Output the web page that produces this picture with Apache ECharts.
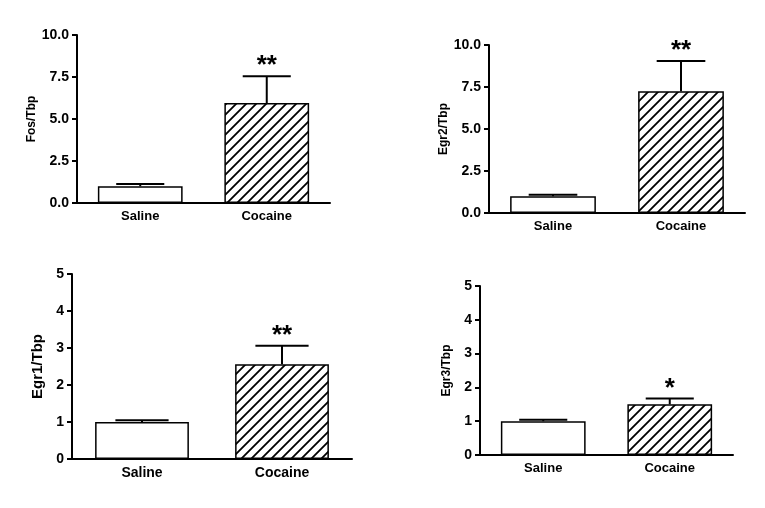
<!DOCTYPE html>
<html>
<head>
<meta charset="utf-8">
<script src="https://cdn.jsdelivr.net/npm/echarts@6/dist/echarts.min.js"></script>
<style>
  html, body { margin: 0; padding: 0; background: #fff; }
  #chart { width: 765px; height: 508px; }
</style>
</head>
<body>
<div id="chart"></div>
<script>
// data
var categories = ['Saline', 'Cocaine'];
var fosMean = [1.0, 5.95];
var fosSem = [0.13, 1.6];
var egr2Mean = [1.0, 7.25];
var egr2Sem = [0.09, 1.8];
var egr1Mean = [1.0, 2.56];
var egr1Sem = [0.05, 0.5];
var egr3Mean = [1.0, 1.5];
var egr3Sem = [0.04, 0.17];
var stars1 = ['', '**'];
var stars2 = ['', '**'];
var stars3 = ['', '**'];
var stars4 = ['', '*'];

var FONT = '"Liberation Sans", Arial, sans-serif';

// hatch tile "/" for the cocaine bars
function makeHatch() {
  var c = document.createElement('canvas');
  c.width = 10; c.height = 10;
  var ctx = c.getContext('2d');
  ctx.fillStyle = '#fff';
  ctx.fillRect(0, 0, 10, 10);
  ctx.strokeStyle = '#000';
  ctx.lineWidth = 1.8;
  ctx.beginPath();
  ctx.moveTo(-1, 11); ctx.lineTo(11, -1);
  ctx.moveTo(-6, 6); ctx.lineTo(6, -6);
  ctx.moveTo(4, 16); ctx.lineTo(16, 4);
  ctx.stroke();
  return c;
}
var hatch = { image: makeHatch(), repeat: 'repeat' };

var panels = [
  { grid: { left: 77, top: 35, width: 253, height: 168 }, name: 'Fos/Tbp', nameSize: 12, nameGap: 35, max: 10, step: 2.5, dec: 1, mean: fosMean, sem: fosSem, stars: stars1, catSize: 13 },
  { grid: { left: 489, top: 45, width: 256, height: 168 }, name: 'Egr2/Tbp', nameSize: 12, nameGap: 36, max: 10, step: 2.5, dec: 1, mean: egr2Mean, sem: egr2Sem, stars: stars2, catSize: 13 },
  { grid: { left: 72, top: 274, width: 280, height: 185 }, name: 'Egr1/Tbp', nameSize: 15, nameGap: 27, max: 5, step: 1, dec: 0, mean: egr1Mean, sem: egr1Sem, stars: stars3, catSize: 14 },
  { grid: { left: 480, top: 286, width: 253, height: 169 }, name: 'Egr3/Tbp', nameSize: 12, nameGap: 27, max: 5, step: 1, dec: 0, mean: egr3Mean, sem: egr3Sem, stars: stars4, catSize: 13 }
];

var grids = [], xAxes = [], yAxes = [], series = [];

panels.forEach(function (p, i) {
  grids.push(p.grid);
  xAxes.push({
    type: 'category', gridIndex: i, data: categories,
    axisLine: { lineStyle: { color: '#000', width: 2 } },
    axisTick: { alignWithLabel: true, length: 4, lineStyle: { color: '#000', width: 1.5 } },
    axisLabel: { color: '#000', fontFamily: FONT, fontWeight: 'bold', fontSize: p.catSize, margin: 7 }
  });
  yAxes.push({
    type: 'value', gridIndex: i, min: 0, max: p.max, interval: p.step,
    name: p.name, nameLocation: 'middle', nameGap: p.nameGap,
    nameTextStyle: { color: '#000', fontFamily: FONT, fontWeight: 'bold', fontSize: p.nameSize },
    splitLine: { show: false },
    axisLine: { show: true, lineStyle: { color: '#000', width: 2 } },
    axisTick: { show: true, length: 5, lineStyle: { color: '#000', width: 2 } },
    axisLabel: {
      color: '#000', fontFamily: FONT, fontWeight: 'bold', fontSize: 14, margin: 8,
      formatter: function (v) { return v.toFixed(p.dec); }
    }
  });
  series.push({
    type: 'bar', xAxisIndex: i, yAxisIndex: i, barWidth: '67%',
    data: p.mean.map(function (v, k) {
      return { value: v, itemStyle: { color: k === 1 ? hatch : '#fff', borderColor: '#000', borderWidth: 1.5 } };
    }),
    z: 2
  });
  series.push({
    type: 'custom', xAxisIndex: i, yAxisIndex: i, z: 3,
    data: p.mean.map(function (v, k) { return [k, v, v + p.sem[k]]; }),
    renderItem: function (params, api) {
      var k = api.value(0);
      var base = api.coord([k, api.value(1)]);
      var top = api.coord([k, api.value(2)]);
      var half = api.size([1, 0])[0] * 0.19;
      var children = [
        { type: 'line', shape: { x1: base[0], y1: base[1], x2: top[0], y2: top[1] }, style: { stroke: '#000', lineWidth: 2 } },
        { type: 'line', shape: { x1: top[0] - half, y1: top[1], x2: top[0] + half, y2: top[1] }, style: { stroke: '#000', lineWidth: 2 } }
      ];
      var s = p.stars[k];
      if (s) {
        children.push({
          type: 'text',
          style: { text: s, x: top[0], y: top[1] + 3, align: 'center', verticalAlign: 'bottom', fill: '#000', font: 'bold 26px ' + FONT }
        });
      }
      return { type: 'group', children: children };
    }
  });
});

var chart = echarts.init(document.getElementById('chart'));
chart.setOption({
  backgroundColor: '#fff',
  animation: false,
  grid: grids,
  xAxis: xAxes,
  yAxis: yAxes,
  series: series
});
</script>
</body>
</html>
